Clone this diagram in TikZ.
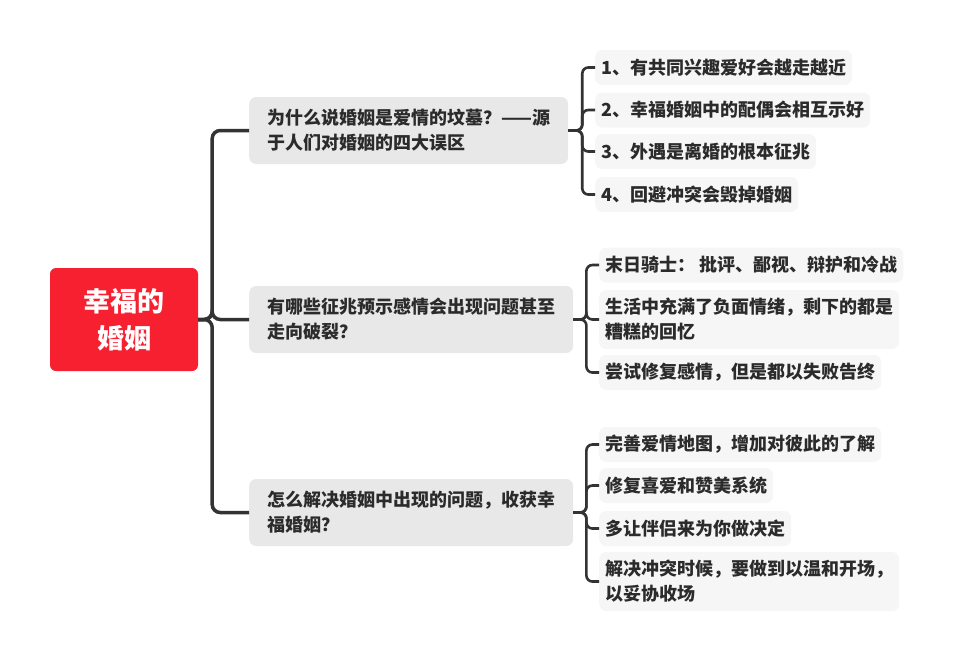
\documentclass[tikz,border=0pt]{standalone}
\usepackage{fontspec}
\setmainfont{Noto Sans CJK SC}

\definecolor{rootRed}{HTML}{F62030}
\definecolor{topicGray}{HTML}{E8E8E8}
\definecolor{leafGray}{HTML}{F6F6F6}
\definecolor{lineDark}{HTML}{333333}
\definecolor{textDark}{HTML}{2B2B2B}

\def \trunkWidth {3.5pt}
\def \twigWidth {2.6pt}

\tikzset{
  rootNode/.style={fill=rootRed, rounded corners=6pt, text=white, align=center,
    minimum width=148pt, minimum height=103pt, inner sep=0pt,
    font=\fontsize{27}{37}\selectfont\bfseries},
  topicNode/.style={fill=topicGray, rounded corners=7pt, text=textDark, anchor=west,
    align=left, minimum height=67pt, inner xsep=18pt, inner ysep=0pt,
    font=\fontsize{18}{25}\selectfont\bfseries},
  leafNode/.style={fill=leafGray, rounded corners=7pt, text=textDark, anchor=west,
    align=left, minimum height=35pt, inner xsep=6pt, inner ysep=0pt,
    font=\fontsize{18}{25}\selectfont\bfseries},
  trunkLine/.style={draw=lineDark, line width=\trunkWidth, rounded corners=8pt},
  twigLine/.style={draw=lineDark, line width=\twigWidth, rounded corners=6pt}
}

\begin{document}
\begin{tikzpicture}[x=1pt, y=-1pt]
   \useasboundingbox (0, 0) rectangle (955, 662);

   % 中心主题
   \node[rootNode] (root) at (124, 319.5) {幸福的\\婚姻};

   % 三个分支
   \node[topicNode] (topicA) at (249, 130.5) {为什么说婚姻是爱情的坟墓？——源\\于人们对婚姻的四大误区};
   \node[topicNode] (topicB) at (249, 319.5) {有哪些征兆预示感情会出现问题甚至\\走向破裂？};
   \node[topicNode] (topicC) at (249, 512.5) {怎么解决婚姻中出现的问题，收获幸\\福婚姻？};

   % 第一个分支的子主题
   \node[leafNode] (leafA1) at (595, 67.5) {1、有共同兴趣爱好会越走越近};
   \node[leafNode] (leafA2) at (595, 110) {2、幸福婚姻中的配偶会相互示好};
   \node[leafNode] (leafA3) at (595, 151.5) {3、外遇是离婚的根本征兆};
   \node[leafNode] (leafA4) at (595, 194.5) {4、回避冲突会毁掉婚姻};

   % 第二个分支的子主题
   \node[leafNode] (leafB1) at (599, 265) {末日骑士： 批评、鄙视、辩护和冷战};
   \node[leafNode, minimum height=59pt] (leafB2) at (599, 319.5) {生活中充满了负面情绪，剩下的都是\\糟糕的回忆};
   \node[leafNode] (leafB3) at (599, 372.5) {尝试修复感情，但是都以失败告终};

   % 第三个分支的子主题
   \node[leafNode] (leafC1) at (599, 444.5) {完善爱情地图，增加对彼此的了解};
   \node[leafNode] (leafC2) at (599, 485.5) {修复喜爱和赞美系统};
   \node[leafNode] (leafC3) at (599, 528.5) {多让伴侣来为你做决定};
   \node[leafNode, minimum height=59pt] (leafC4) at (599, 581.5) {解决冲突时候，要做到以温和开场，\\以妥协收场};

   % 连线
   \foreach \topic in {topicA, topicB, topicC}
      \draw[trunkLine] (root.east) -- ++(14, 0) |- (\topic.west);

   \foreach \leaf in {leafA1, leafA2, leafA3, leafA4}
      \draw[twigLine] (topicA.east) -- ++(14, 0) |- (\leaf.west);
   \foreach \leaf in {leafB1, leafB2, leafB3}
      \draw[twigLine] (topicB.east) -- ++(13, 0) |- (\leaf.west);
   \foreach \leaf in {leafC1, leafC2, leafC3, leafC4}
      \draw[twigLine] (topicC.east) -- ++(13, 0) |- (\leaf.west);
\end{tikzpicture}
\end{document}
